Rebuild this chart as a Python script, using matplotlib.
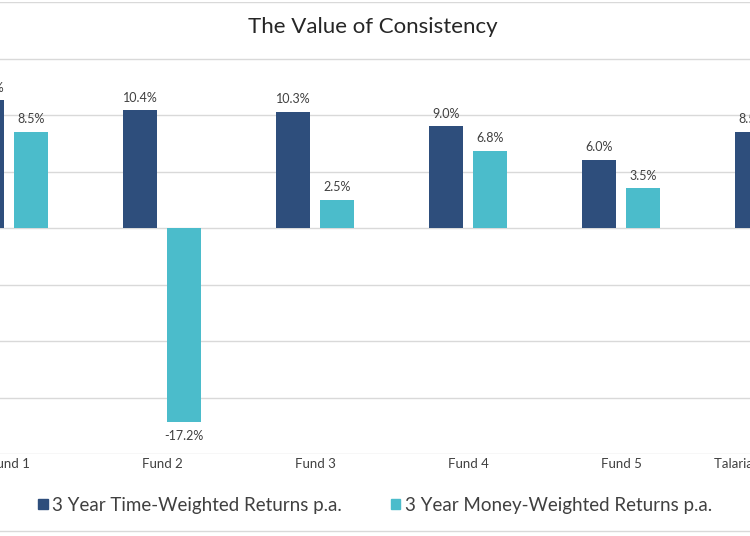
import matplotlib.pyplot as plt
from matplotlib.patches import Patch
from matplotlib.lines import Line2D

# --- data ---
funds = ["Fund 1", "Fund 2", "Fund 3", "Fund 4", "Fund 5", "Talaria Global Equity"]
time_weighted = [11.3, 10.4, 10.3, 9.0, 6.0, 8.5]
money_weighted = [8.5, -17.2, 2.5, 6.8, 3.5, 2.6]

dark = "#2E4E7C"
teal = "#4BBCCB"
text_col = "#404040"
grid_col = "#D9D9D9"

plt.rcParams['font.family'] = ['Lato', 'DejaVu Sans']

fig = plt.figure(figsize=(7.5, 5.36), dpi=100)
# chart is a crop of a wider one: axes spill past both edges
ax = fig.add_axes([0, 82 / 536, 1, 452 / 536])

x = list(range(len(funds)))
off = 0.142
w = 0.222
b1 = ax.bar([i - off for i in x], time_weighted, w, color=dark, zorder=3)
b2 = ax.bar([i + off for i in x], money_weighted, w, color=teal, zorder=3)

for bars in (b1, b2):
    for r in bars:
        v = r.get_height()
        xc = r.get_x() + r.get_width() / 2
        if v >= 0:
            ax.text(xc, v + 0.6, f"{v:.1f}%", ha="center", va="bottom",
                    fontsize=9, color=text_col)
        else:
            ax.text(xc, v - 0.7, f"{v:.1f}%", ha="center", va="top",
                    fontsize=9, color=text_col)

# category labels drawn as text so the ones past the edge still show
ax.set_xticks([])
for i, name in zip(x, funds):
    ax.text(i, -0.009, name, transform=ax.get_xaxis_transform(),
            ha="center", va="top", fontsize=9.5, color=text_col, clip_on=False)

ax.set_xlim(-9 / 153, 741 / 153)
ax.set_ylim(-20, 20)
ax.set_yticks(range(-20, 21, 5))
ax.yaxis.grid(True, color=grid_col, linewidth=1, zorder=0)
ax.tick_params(axis="y", left=False, labelleft=False)
for s in ax.spines.values():
    s.set_visible(False)

fig.text(0.497, 1 - 27 / 536, "The Value of Consistency", ha="center",
         va="center", fontsize=16, color="#262626")

handles = [Patch(color=dark), Patch(color=teal)]
fig.legend(handles, ["3 Year Time-Weighted Returns p.a.",
                     "3 Year Money-Weighted Returns p.a."],
           loc="center", bbox_to_anchor=(0.5, 1 - 505 / 536), ncol=2,
           frameon=False, fontsize=13.5, handlelength=0.5, handleheight=0.5,
           handletextpad=0.25, columnspacing=2.6, labelcolor=text_col)

fig.add_artist(Line2D([0, 1], [1 - 531 / 536] * 2, color=grid_col, lw=1))

fig.savefig("out.png", dpi=100)
